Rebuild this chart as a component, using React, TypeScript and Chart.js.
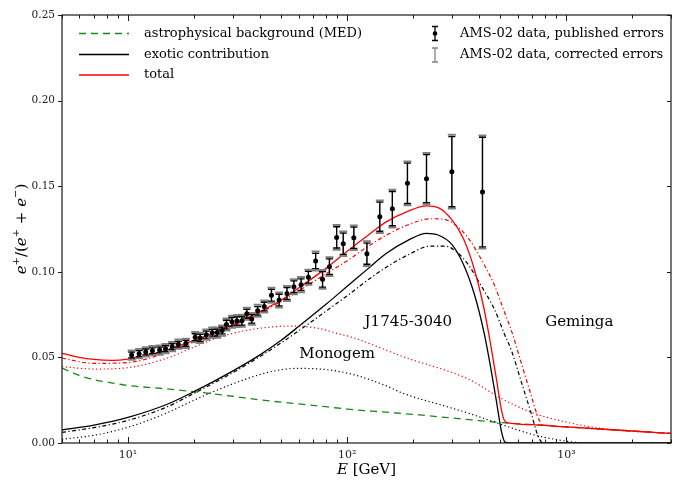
import { useEffect, useRef } from "react";
import { Chart, registerables } from "chart.js";

Chart.register(...registerables);

// ---------------- data ----------------
// astrophysical background (MED)
const bgE = [5, 6, 7, 8.5, 10, 15, 20, 30, 40, 60, 80, 100, 150, 214, 300, 400, 508, 700, 1000, 2000, 3000];
const bgV = [0.0438, 0.0395, 0.037, 0.035, 0.0336, 0.0316, 0.03, 0.0273, 0.0252, 0.0228, 0.0212, 0.0198, 0.018, 0.0164, 0.0146, 0.0131, 0.0119, 0.0107, 0.0094, 0.007, 0.0056];

// exotic contribution, J1745-3040 (solid black)
const jE = [5, 7, 10, 15, 20, 30, 40, 50, 60, 80, 100, 125, 150, 190, 230, 260, 300, 340, 380, 420, 450, 480, 505, 525, 545, 3000];
const jV = [0.0077, 0.0105, 0.015, 0.0225, 0.03, 0.042, 0.0515, 0.06, 0.068, 0.081, 0.0915, 0.102, 0.1105, 0.1185, 0.1225, 0.1215, 0.116, 0.104, 0.087, 0.065, 0.045, 0.024, 0.007, 0.0005, 0, 0];

// exotic contribution, Geminga (dash-dot black)
const gE = [5, 7, 10, 15, 20, 30, 40, 50, 60, 80, 100, 125, 150, 190, 240, 280, 320, 360, 410, 470, 520, 565, 625, 690, 740, 770, 790, 3000];
const gV = [0.0062, 0.009, 0.0132, 0.021, 0.029, 0.041, 0.0505, 0.0585, 0.0655, 0.077, 0.086, 0.0955, 0.1025, 0.11, 0.115, 0.115, 0.111, 0.1035, 0.0915, 0.078, 0.064, 0.053, 0.035, 0.0175, 0.0045, 0.0005, 0, 0];

// exotic contribution, Monogem (dotted black)
const mE = [5, 7, 10, 15, 20, 30, 40, 50, 60, 75, 90, 110, 150, 180, 280, 360, 500, 700, 900, 1050, 1200, 3000];
const mV = [0.0022, 0.0045, 0.0092, 0.0175, 0.025, 0.0345, 0.04, 0.0428, 0.0436, 0.0432, 0.042, 0.0395, 0.0335, 0.029, 0.0215, 0.0173, 0.011, 0.005, 0.002, 0.0007, 0, 0];

// total, J1745-3040 (solid red)
const tE = [5, 6, 7, 8.5, 10, 12, 15, 20, 25, 30, 40, 50, 60, 80, 100, 125, 150, 190, 230, 260, 300, 340, 380, 420, 450, 480, 505, 520, 540, 700, 1000, 2000, 3000];
const tV = [0.0524, 0.05, 0.0488, 0.0483, 0.049, 0.051, 0.0543, 0.06, 0.0647, 0.069, 0.0767, 0.0835, 0.0905, 0.102, 0.112, 0.1215, 0.129, 0.1355, 0.1385, 0.1375, 0.1305, 0.119, 0.1015, 0.079, 0.0585, 0.037, 0.0195, 0.0135, 0.0117, 0.0107, 0.0094, 0.007, 0.0056];

// total, Geminga (dash-dot red)
const gtE = [5, 7, 10, 15, 20, 30, 40, 50, 60, 80, 100, 125, 150, 190, 240, 280, 320, 360, 410, 470, 520, 565, 625, 690, 740, 770, 800, 1000, 2000, 3000];
const gtV = [0.0495, 0.0465, 0.047, 0.0528, 0.0592, 0.0685, 0.076, 0.0828, 0.0888, 0.0988, 0.1065, 0.115, 0.1212, 0.1275, 0.131, 0.1305, 0.1262, 0.119, 0.107, 0.092, 0.077, 0.0645, 0.046, 0.028, 0.0155, 0.0112, 0.0103, 0.0094, 0.007, 0.0056];

// total, Monogem (dotted red)
const mtE = [5, 7, 10, 15, 20, 26.4, 37, 56.6, 75, 90, 105, 180, 359, 508, 718, 1000, 1440, 2030, 3000];
const mtV = [0.0446, 0.0432, 0.044, 0.0495, 0.056, 0.062, 0.0664, 0.0683, 0.0668, 0.064, 0.0618, 0.0504, 0.0372, 0.0258, 0.0172, 0.0122, 0.0085, 0.0068, 0.0056];

// AMS-02 positron fraction
const amsE = [10.39, 11.24, 12.05, 12.92, 13.94, 14.83, 15.9, 16.97, 18.38, 20.25, 21.33, 22.76, 24.23, 25.52, 26.88, 28.13, 29.81, 31.4, 33.07, 34.83, 36.68, 39.04, 41.84, 45.13, 48.9, 53.12, 57.12, 61.61, 66.53, 71.77, 77.18, 82.98, 89.5, 95.93, 107.2, 123.0, 140.8, 160.7, 188.3, 230.0, 300.2, 414.1];
const amsV = [0.0514, 0.0522, 0.0532, 0.0539, 0.0543, 0.0551, 0.0563, 0.0577, 0.0582, 0.0618, 0.0614, 0.0633, 0.0644, 0.0645, 0.0657, 0.0692, 0.0708, 0.0712, 0.0714, 0.0755, 0.0725, 0.0772, 0.0797, 0.0863, 0.0835, 0.0873, 0.0913, 0.0925, 0.0968, 0.1063, 0.0956, 0.103, 0.1201, 0.1164, 0.1199, 0.1106, 0.1322, 0.1369, 0.1517, 0.1544, 0.1585, 0.1466];
const amsPubErr = [0.0017, 0.0017, 0.0017, 0.0017, 0.0017, 0.0017, 0.0017, 0.0017, 0.0017, 0.002, 0.002, 0.002, 0.002, 0.002, 0.002, 0.0025, 0.0025, 0.0025, 0.0025, 0.0025, 0.0025, 0.0025, 0.0025, 0.0034, 0.0034, 0.0034, 0.0034, 0.0034, 0.0034, 0.0045, 0.0045, 0.0045, 0.0062, 0.0062, 0.0062, 0.0062, 0.0085, 0.01, 0.0118, 0.014, 0.0205, 0.032];
const amsCorErr = [0.0027, 0.0027, 0.0027, 0.0027, 0.0027, 0.0027, 0.0027, 0.0027, 0.0027, 0.003, 0.003, 0.003, 0.003, 0.003, 0.003, 0.0035, 0.0035, 0.0035, 0.0035, 0.0035, 0.0035, 0.0035, 0.0035, 0.0044, 0.0044, 0.0044, 0.0044, 0.0044, 0.0044, 0.0055, 0.0055, 0.0055, 0.0072, 0.0072, 0.0072, 0.0072, 0.0095, 0.011, 0.0128, 0.015, 0.0215, 0.033];

// axes
const xMin = 5;
const xMax = 3000;
const xMajor = [10, 100, 1000];
const xTickLabels = ["10¹", "10²", "10³"];
const yTicks = [0, 0.05, 0.1, 0.15, 0.2, 0.25];

// region annotations
const regionNames = ["J1745-3040", "Geminga", "Monogem"];
const regionE = [190, 1145, 90];
const regionV = [0.0707, 0.0707, 0.052];

// legend texts
const legendLeft = ["astrophysical background (MED)", "exotic contribution", "total"];
const legendRight = ["AMS-02 data, published errors", "AMS-02 data, corrected errors"];

const FONT = "'DejaVu Serif', serif";
const RED = "#ff0000";
const GREEN = "#178a17";
const GREY = "#808080";

const pts = (xs: number[], ys: number[]) => xs.map((x, i) => ({ x, y: ys[i] }));

export default function App() {
  const ref = useRef<HTMLCanvasElement>(null);

  useEffect(() => {
    const canvas = ref.current;
    if (!canvas) return;

    const POINTS = 7;

    const line = (data: any, color: string, dash: number[], order: number, width = 1.3) => ({
      type: "line",
      data,
      borderColor: color,
      backgroundColor: color,
      borderWidth: width,
      borderDash: dash,
      pointRadius: 0,
      fill: false,
      cubicInterpolationMode: "monotone",
      order,
    });

    const decor = {
      id: "decor",
      beforeDatasetDraw(chart: any, args: any) {
        if (args.index !== POINTS) return;
        const { ctx, scales } = chart;
        const xs = scales.x, ys = scales.y;
        ctx.save();
        amsE.forEach((e, i) => {
          const px = xs.getPixelForValue(e);
          const v = amsV[i];
          const c1 = ys.getPixelForValue(v + amsCorErr[i]);
          const c2 = ys.getPixelForValue(v - amsCorErr[i]);
          ctx.strokeStyle = GREY;
          ctx.lineWidth = 1.3;
          ctx.beginPath();
          ctx.moveTo(px, c1); ctx.lineTo(px, c2);
          ctx.stroke();
          ctx.lineWidth = 2;
          ctx.beginPath();
          ctx.moveTo(px - 4, c1); ctx.lineTo(px + 4, c1);
          ctx.moveTo(px - 4, c2); ctx.lineTo(px + 4, c2);
          ctx.stroke();
          const p1 = ys.getPixelForValue(v + amsPubErr[i]);
          const p2 = ys.getPixelForValue(v - amsPubErr[i]);
          ctx.strokeStyle = "#000";
          ctx.lineWidth = 1.3;
          ctx.beginPath();
          ctx.moveTo(px, p1); ctx.lineTo(px, p2);
          ctx.moveTo(px - 3.5, p1); ctx.lineTo(px + 3.5, p1);
          ctx.moveTo(px - 3.5, p2); ctx.lineTo(px + 3.5, p2);
          ctx.stroke();
        });
        ctx.restore();
      },
      afterDraw(chart: any) {
        const { ctx, chartArea: a, scales } = chart;
        const xs = scales.x, ys = scales.y;
        ctx.save();
        ctx.strokeStyle = "#1a1a1a";
        ctx.lineWidth = 1.2;
        ctx.setLineDash([]);
        ctx.strokeRect(a.left, a.top, a.right - a.left, a.bottom - a.top);
        ctx.lineWidth = 1;
        ctx.beginPath();
        for (const dec of [1, 10, 100, 1000]) {
          for (let k = 1; k <= 9; k++) {
            const v = dec * k;
            if (v < xMin || v > xMax) continue;
            const px = Math.round(xs.getPixelForValue(v)) + 0.5;
            const len = k === 1 ? 6 : 3.5;
            ctx.moveTo(px, a.bottom); ctx.lineTo(px, a.bottom - len);
            ctx.moveTo(px, a.top); ctx.lineTo(px, a.top + len);
          }
        }
        for (const v of yTicks) {
          const py = Math.round(ys.getPixelForValue(v)) + 0.5;
          ctx.moveTo(a.left - 4, py); ctx.lineTo(a.left, py);
          ctx.moveTo(a.right, py); ctx.lineTo(a.right - 4, py);
        }
        ctx.stroke();

        ctx.fillStyle = "#000";
        ctx.font = `15px ${FONT}`;
        ctx.textAlign = "center";
        ctx.textBaseline = "middle";
        regionNames.forEach((n, i) => {
          ctx.fillText(n, xs.getPixelForValue(regionE[i]), ys.getPixelForValue(regionV[i]));
        });

        const rowsL = [33.5, 54.5, 75];
        const styles = [
          { c: GREEN, d: [7, 5] },
          { c: "#000", d: [] as number[] },
          { c: RED, d: [] as number[] },
        ];
        ctx.font = `13px ${FONT}`;
        ctx.textAlign = "left";
        legendLeft.forEach((t, i) => {
          ctx.strokeStyle = styles[i].c;
          ctx.lineWidth = 1.3;
          ctx.setLineDash(styles[i].d);
          ctx.beginPath();
          ctx.moveTo(79, rowsL[i]); ctx.lineTo(129, rowsL[i]);
          ctx.stroke();
          ctx.setLineDash([]);
          ctx.fillStyle = "#000";
          ctx.fillText(t, 144, rowsL[i]);
        });
        const rowsR = [33.5, 55];
        const sx = 435;
        ctx.strokeStyle = "#000";
        ctx.lineWidth = 1.3;
        ctx.beginPath();
        ctx.moveTo(sx, rowsR[0] - 7); ctx.lineTo(sx, rowsR[0] + 7);
        ctx.moveTo(sx - 3, rowsR[0] - 7); ctx.lineTo(sx + 3, rowsR[0] - 7);
        ctx.moveTo(sx - 3, rowsR[0] + 7); ctx.lineTo(sx + 3, rowsR[0] + 7);
        ctx.stroke();
        ctx.fillStyle = "#000";
        ctx.beginPath();
        ctx.arc(sx, rowsR[0], 2.3, 0, Math.PI * 2);
        ctx.fill();
        ctx.strokeStyle = GREY;
        ctx.beginPath();
        ctx.moveTo(sx, rowsR[1] - 7); ctx.lineTo(sx, rowsR[1] + 7);
        ctx.moveTo(sx - 3, rowsR[1] - 7); ctx.lineTo(sx + 3, rowsR[1] - 7);
        ctx.moveTo(sx - 3, rowsR[1] + 7); ctx.lineTo(sx + 3, rowsR[1] + 7);
        ctx.stroke();
        ctx.fillStyle = "#000";
        legendRight.forEach((t, i) => ctx.fillText(t, 460, rowsR[i]));

        // x axis title
        ctx.textBaseline = "alphabetic";
        ctx.font = `italic 15px ${FONT}`;
        const wE = ctx.measureText("E").width;
        ctx.font = `15px ${FONT}`;
        const wR = ctx.measureText(" [GeV]").width;
        const cx = (a.left + a.right) / 2;
        const x0 = cx - (wE + wR) / 2;
        ctx.font = `italic 15px ${FONT}`;
        ctx.fillText("E", x0, 474);
        ctx.font = `15px ${FONT}`;
        ctx.fillText(" [GeV]", x0 + wE, 474);

        // y axis title
        const segs: { t: string; it?: boolean; sup?: boolean }[] = [
          { t: "e", it: true }, { t: "+", sup: true }, { t: "/(" },
          { t: "e", it: true }, { t: "+", sup: true }, { t: " + " },
          { t: "e", it: true }, { t: "−", sup: true }, { t: ")" },
        ];
        const fontOf = (s: any) => (s.sup ? `10px ${FONT}` : s.it ? `italic 15px ${FONT}` : `15px ${FONT}`);
        let total = 0;
        segs.forEach((s) => { ctx.font = fontOf(s); total += ctx.measureText(s.t).width; });
        ctx.translate(26, (a.top + a.bottom) / 2);
        ctx.rotate(-Math.PI / 2);
        let xx = -total / 2;
        segs.forEach((s) => {
          ctx.font = fontOf(s);
          ctx.fillText(s.t, xx, s.sup ? -7 : 0);
          xx += ctx.measureText(s.t).width;
        });
        ctx.restore();
      },
    };

    const chart = new Chart(canvas, {
      type: "line",
      data: {
        datasets: [
          line(pts(bgE, bgV), GREEN, [7, 5], 9),
          line(pts(mE, mV), "#000", [1.2, 2.6], 8, 1.2),
          line(pts(gE, gV), "#000", [4, 2.5, 1.2, 2.5], 7, 1.2),
          line(pts(jE, jV), "#000", [], 6),
          line(pts(mtE, mtV), RED, [1.2, 2.6], 5, 1.2),
          line(pts(gtE, gtV), RED, [4, 2.5, 1.2, 2.5], 4, 1.2),
          line(pts(tE, tV), RED, [], 3),
          {
            type: "line",
            data: pts(amsE, amsV),
            showLine: false,
            pointRadius: 2.5,
            pointBorderWidth: 0,
            pointBackgroundColor: "#000",
            borderColor: "#000",
            backgroundColor: "#000",
            order: 0,
          },
        ] as any,
      },
      options: {
        responsive: false,
        animation: false,
        events: [],
        layout: { padding: { top: 15, right: 1, left: 0, bottom: 0 } },
        plugins: { legend: { display: false }, tooltip: { enabled: false } },
        scales: {
          x: {
            type: "logarithmic",
            min: xMin,
            max: xMax,
            grid: { display: false, drawTicks: false },
            border: { display: false },
            afterBuildTicks: (s: any) => { s.ticks = xMajor.map((v) => ({ value: v })); },
            afterFit: (s: any) => { s.height = 41; },
            ticks: {
              autoSkip: false,
              maxRotation: 0,
              padding: 6,
              color: "#222",
              font: { family: FONT, size: 11 },
              callback: (v: any) => {
                const i = xMajor.indexOf(Number(v));
                return i >= 0 ? xTickLabels[i] : "";
              },
            },
          },
          y: {
            type: "linear",
            min: 0,
            max: 0.25,
            grid: { display: false, drawTicks: false },
            border: { display: false },
            afterBuildTicks: (s: any) => { s.ticks = yTicks.map((v) => ({ value: v })); },
            afterFit: (s: any) => { s.width = 62; },
            ticks: {
              padding: 7,
              color: "#222",
              font: { family: FONT, size: 10.5 },
              callback: (v: any) => Number(v).toFixed(2),
            },
          },
        },
      } as any,
      plugins: [decor as any],
    });

    return () => chart.destroy();
  }, []);

  return (
    <div style={{ position: "absolute", left: 0, top: 0, width: 675, height: 484, background: "#fff" }}>
      <canvas ref={ref} width={675} height={484} style={{ display: "block" }} />
    </div>
  );
}
